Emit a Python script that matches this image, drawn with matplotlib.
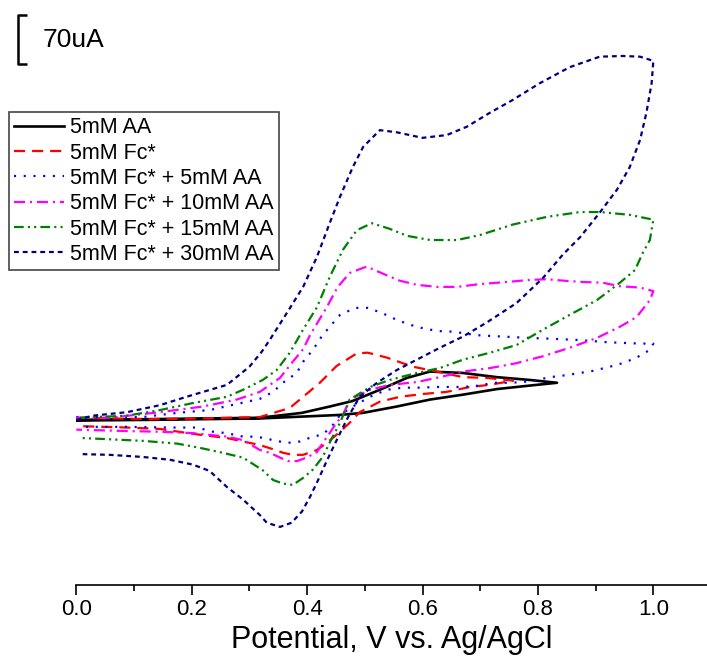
import matplotlib
matplotlib.use("Agg")
import matplotlib.pyplot as plt
from matplotlib.ticker import MultipleLocator

plt.rcParams['font.family'] = ['Liberation Sans', 'DejaVu Sans']
plt.rcParams['lines.scale_dashes'] = False

# potential (V vs Ag/AgCl) and current (uA), forward scan then reverse scan
aa_v = [0.0, 0.127, 0.318, 0.391, 0.439, 0.479, 0.526, 0.573, 0.613, 0.670, 0.729, 0.786, 0.833,
        0.786, 0.729, 0.670, 0.613, 0.555, 0.497, 0.456, 0.318, 0.127, 0.0]
aa_i = [0, 1, 3, 10, 19, 27, 43, 60, 69, 67, 61, 57, 53,
        49, 44, 36, 29, 19, 10, 7, 2, 0, -1]

fc_v = [0.0, 0.127, 0.214, 0.318, 0.370, 0.422, 0.451, 0.486, 0.505, 0.538, 0.583, 0.625, 0.670, 0.711, 0.757,
        0.716, 0.682, 0.642, 0.601, 0.561, 0.526, 0.491, 0.474, 0.457, 0.434, 0.417, 0.393, 0.375, 0.358,
        0.341, 0.318, 0.261, 0.202, 0.145, 0.088, 0.006]
fc_i = [3, 1, 2, 4, 17, 53, 77, 95, 96, 89, 76, 69, 61, 60, 56,
        50, 47, 40, 37, 33, 26, 11, -4, -17, -33, -43, -50, -50, -47,
        -42, -36, -26, -20, -13, -11, -9]

aa5_v = [0.0, 0.115, 0.175, 0.231, 0.318, 0.341, 0.358, 0.382, 0.393, 0.410, 0.425, 0.439, 0.457, 0.483, 0.505,
         0.529, 0.555, 0.578, 0.600, 0.625, 0.653, 0.694, 0.739, 0.786, 0.821, 0.873, 0.919, 0.947, 0.977, 1.0,
         0.994, 0.971, 0.947, 0.925, 0.895, 0.873, 0.850, 0.821, 0.798, 0.774, 0.751, 0.722, 0.699, 0.670,
         0.648, 0.625, 0.595, 0.566, 0.538, 0.509, 0.479, 0.457, 0.445, 0.427, 0.410, 0.387, 0.365, 0.341,
         0.313, 0.289, 0.261, 0.237, 0.209, 0.162, 0.088, 0.006]
aa5_i = [4, 4, 10, 14, 30, 40, 53, 67, 83, 100, 119, 133, 150, 160, 160,
         153, 143, 136, 131, 127, 126, 121, 119, 117, 116, 114, 111, 110, 109, 109,
         100, 89, 81, 76, 70, 67, 64, 61, 57, 54, 53, 53, 49, 47,
         47, 47, 46, 46, 43, 33, 19, 7, -7, -21, -24, -31, -33, -29,
         -24, -24, -19, -17, -11, -11, -10, -10]

aa10_v = [0.0, 0.058, 0.145, 0.219, 0.278, 0.318, 0.353, 0.375, 0.393, 0.405, 0.434, 0.453, 0.474, 0.503, 0.531,
          0.560, 0.590, 0.625, 0.660, 0.699, 0.746, 0.786, 0.815, 0.843, 0.878, 0.912, 0.942, 0.977, 1.0,
          0.994, 0.971, 0.942, 0.902, 0.855, 0.809, 0.763, 0.717, 0.670, 0.630, 0.590, 0.543, 0.509, 0.474,
          0.462, 0.451, 0.439, 0.427, 0.417, 0.399, 0.382, 0.367, 0.353, 0.335, 0.318, 0.289, 0.261, 0.202,
          0.145, 0.088, 0.0]
aa10_i = [3, 3, 11, 19, 29, 40, 60, 83, 101, 121, 161, 190, 210, 219, 209,
          199, 193, 190, 190, 194, 197, 200, 201, 199, 197, 196, 191, 189, 184,
          171, 147, 133, 117, 103, 91, 81, 74, 69, 61, 54, 50, 43, 29,
          7, -4, -19, -33, -46, -54, -59, -59, -54, -47, -43, -29, -24, -19,
          -17, -16, -14]

aa15_v = [0.006, 0.088, 0.145, 0.202, 0.261, 0.289, 0.323, 0.347, 0.370, 0.393, 0.417, 0.439, 0.462, 0.486, 0.512,
          0.543, 0.573, 0.613, 0.660, 0.699, 0.756, 0.815, 0.873, 0.907, 0.959, 1.0,
          0.994, 0.982, 0.968, 0.942, 0.902, 0.855, 0.809, 0.763, 0.717, 0.670, 0.630, 0.590, 0.543, 0.509,
          0.474, 0.457, 0.443, 0.427, 0.410, 0.393, 0.375, 0.358, 0.341, 0.323, 0.289, 0.248, 0.214, 0.175,
          0.115, 0.011]
aa15_i = [3, 6, 14, 24, 33, 43, 57, 71, 96, 129, 161, 204, 243, 271, 281,
          273, 263, 257, 257, 264, 279, 290, 297, 297, 293, 286,
          257, 239, 214, 196, 171, 150, 129, 107, 96, 86, 74, 67, 57, 47,
          29, -4, -26, -53, -71, -83, -93, -91, -86, -72, -54, -46, -40, -34,
          -30, -26]

aa30_v = [0.0, 0.029, 0.088, 0.145, 0.191, 0.261, 0.300, 0.321, 0.335, 0.365, 0.393, 0.417, 0.439, 0.457, 0.479, 0.497,
          0.526, 0.555, 0.600, 0.642, 0.677, 0.717, 0.756, 0.803, 0.855, 0.907, 0.947, 0.977, 1.0,
          0.997, 0.988, 0.977, 0.959, 0.937, 0.907, 0.873, 0.843, 0.809, 0.763, 0.711, 0.670, 0.630, 0.590,
          0.555, 0.521, 0.491, 0.471, 0.457, 0.443, 0.431, 0.419, 0.405, 0.391, 0.373, 0.353, 0.330, 0.318,
          0.289, 0.261, 0.231, 0.202, 0.162, 0.115, 0.058, 0.011]
aa30_i = [0, 6, 11, 21, 33, 50, 76, 97, 114, 153, 190, 233, 281, 319, 361, 390,
          414, 411, 403, 407, 419, 439, 457, 481, 504, 519, 520, 519, 513,
          481, 439, 400, 361, 329, 296, 261, 236, 203, 167, 139, 119, 103, 86,
          71, 53, 33, 4, -19, -43, -64, -86, -110, -131, -147, -153, -147, -136,
          -114, -96, -73, -64, -57, -53, -50, -49]

labels = ['5mM AA', '5mM Fc*', '5mM Fc* + 5mM AA', '5mM Fc* + 10mM AA',
          '5mM Fc* + 15mM AA', '5mM Fc* + 30mM AA']
colors = ['black', '#ff0000', '#0000ff', '#ff00ff', '#008000', '#000080']
styles = ['-', (0, (8, 5)), (0, (1.5, 5.5)), (0, (8, 3.5, 1.5, 3.5)),
          (0, (7, 3, 1.5, 3, 1.5, 3)), (0, (3.5, 2.8))]
widths = [1.9, 1.6, 1.6, 1.6, 1.6, 1.6]

fig = plt.figure(figsize=(7.07, 6.59), dpi=100)
ax = fig.add_axes([0.108, 0.1123, 0.892, 0.8877])

series = [(aa_v, aa_i), (fc_v, fc_i), (aa5_v, aa5_i), (aa10_v, aa10_i),
          (aa15_v, aa15_i), (aa30_v, aa30_i)]
for (v, i), lab, c, ls, lw in zip(series, labels, colors, styles, widths):
    ax.plot(v, i, color=c, linestyle=ls, linewidth=lw, label=lab)

ax.set_xlim(0, 1.093)
ax.set_ylim(-236, 600)
ax.spines['top'].set_visible(False)
ax.spines['right'].set_visible(False)
ax.spines['left'].set_visible(False)
ax.spines['bottom'].set_linewidth(1.2)
ax.set_yticks([])
ax.xaxis.set_major_locator(MultipleLocator(0.2))
ax.xaxis.set_minor_locator(MultipleLocator(0.1))
ax.xaxis.set_major_formatter(plt.FormatStrFormatter('%.1f'))
ax.tick_params(axis='x', which='major', length=7, width=1.2, labelsize=16, pad=3)
ax.tick_params(axis='x', which='minor', length=4, width=1.2)
ax.set_xlabel('Potential, V vs. Ag/AgCl', fontsize=22, labelpad=4)

# 70 uA scale bar
ax.plot([-0.085, -0.102, -0.102, -0.085], [578, 578, 508, 508], color='black',
        linewidth=1.8, clip_on=False, solid_capstyle='butt')
ax.text(-0.058, 543, '70uA', fontsize=19, va='center', ha='left')

leg = fig.legend(loc='upper left', bbox_to_anchor=(9 / 707, 1 - 112 / 659),
                 fontsize=15.5, frameon=True, fancybox=False, framealpha=1,
                 edgecolor='#444444', handlelength=2.3, handletextpad=0.3,
                 labelspacing=0.2, borderpad=0.25, borderaxespad=0)
leg.get_frame().set_linewidth(1.2)

plt.savefig('out.png', dpi=100)
